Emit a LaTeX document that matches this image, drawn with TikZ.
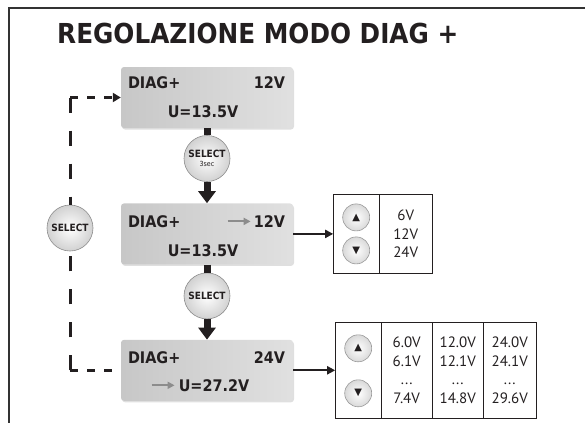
\documentclass[tikz,border=0pt]{standalone}
\usepackage{fontspec}
\setmainfont{DejaVu Sans}[FakeStretch=0.9]
\newfontfamily\thinfont{PT Sans}
\newfontfamily\symfont{DejaVu Sans}
\usetikzlibrary{arrows.meta,positioning,shadows}
\definecolor{inkgray}{HTML}{231F20}
\definecolor{hintgray}{HTML}{8C8C8C}

\begin{document}
\begin{tikzpicture}[x=1pt,y=-1pt,
node distance=7pt and 40pt,
lcd/.style={rounded corners=3pt,minimum width=172pt,minimum height=61pt,
left color=black!22,right color=black!12,
drop shadow={shadow xshift=1pt,shadow yshift=-1.5pt,opacity=0.25}},
txt/.style={font=\bfseries\fontsize{16}{18}\selectfont,text=inkgray,inner sep=0pt},
sel/.style={circle,draw=black!45,line width=0.6pt,inner color=white,outer color=black!18,
minimum size=46pt,inner sep=0pt,align=center,
font=\bfseries\fontsize{10}{10}\selectfont,text=inkgray},
key/.style={circle,draw=black!40,line width=0.6pt,inner color=white,outer color=black!15,
minimum size=27pt,inner sep=0pt,font=\symfont\fontsize{10}{10}\selectfont,text=inkgray},
cell/.style={draw=inkgray,line width=1.4pt,outer sep=0pt,inner sep=0pt,
minimum height=79pt,align=center,font=\thinfont\fontsize{15}{18.5}\selectfont,text=inkgray},
stem/.style={draw=inkgray,line width=7pt},
flow/.style={draw=inkgray,line width=7pt,-{Triangle[length=12pt,width=17pt]}},
feed/.style={draw=inkgray,line width=2.2pt,-{Triangle[length=8pt,width=8pt]}},
hint/.style={draw=hintgray,line width=2pt,-{Triangle[length=7pt,width=7pt]}},
backh/.style={draw=inkgray,line width=3pt,dash pattern=on 8pt off 9pt},
backv/.style={draw=inkgray,line width=3pt,dash pattern=on 15pt off 18pt},
frame/.style={draw=black!80,line width=2pt}
]
\useasboundingbox (0,0) rectangle (585,423);
\draw[frame] (585,8) -- (9,8) -- (9,423);
\node[anchor=west,font=\bfseries\fontsize{27.5}{30}\selectfont,text=inkgray,inner sep=0pt] (title) at (57,33) {REGOLAZIONE MODO DIAG +};

\node[lcd] (v1) at (207,97.5) {};
\node[lcd,below=75pt of v1] (v2) {};
\node[lcd,below=75pt of v2] (v3) {};

\node[txt,anchor=west] (v1a) at ([xshift=7pt,yshift=14.5pt]v1.west) {DIAG+};
\node[txt,anchor=east] (v1b) at ([xshift=-8pt,yshift=14.5pt]v1.east) {12V};
\node[txt] (v1c) at ([xshift=-4pt,yshift=-14.5pt]v1.center) {U=13.5V};
\node[txt,anchor=west] (v2a) at ([xshift=7pt,yshift=12.5pt]v2.west) {DIAG+};
\node[txt,anchor=east] (v2b) at ([xshift=-8pt,yshift=12.5pt]v2.east) {12V};
\node[txt] (v2c) at ([xshift=-4pt,yshift=-16.5pt]v2.center) {U=13.5V};
\node[txt,anchor=west] (v3a) at ([xshift=7pt,yshift=13pt]v3.west) {DIAG+};
\node[txt,anchor=east] (v3b) at ([xshift=-8pt,yshift=13pt]v3.east) {24V};
\node[txt] (v3c) at ([xshift=7pt,yshift=-15pt]v3.center) {U=27.2V};
\draw[hint] ([xshift=-26pt]v2b.west) -- ([xshift=-3pt]v2b.west);
\draw[hint] ([xshift=-27pt]v3c.west) -- ([xshift=-4pt]v3c.west);

\node[sel,below=7pt of v1] (s1) {SELECT\\[-1pt]{\mdseries\fontsize{7}{7}\selectfont 3sec}};
\node[sel,below=8pt of v2] (s2) {SELECT};
\node[sel] (s0) at (70,228) {SELECT};

\draw[stem] (v1) -- (s1);
\draw[flow] (s1) -- (v2);
\draw[stem] (v2) -- (s2);
\draw[flow] (s2) -- (v3);

\node[cell,minimum width=46pt,right=40pt of v2] (k1) {};
\node[cell,minimum width=53pt,right=0pt of k1] (k1v) {6V\\12V\\24V};
\node[key] (k1u) at ([yshift=16.5pt]k1.center) {▲};
\node[key] (k1d) at ([yshift=-16.5pt]k1.center) {▼};

\node[cell,minimum width=46pt,minimum height=96pt,right=42pt of v3] (k2) {};
\node[cell,minimum width=51pt,minimum height=96pt,right=0pt of k2] (k2a) {6.0V\\6.1V\\...\\7.4V};
\node[cell,minimum width=51pt,minimum height=96pt,right=0pt of k2a] (k2b) {12.0V\\12.1V\\...\\14.8V};
\node[cell,minimum width=53pt,minimum height=96pt,right=0pt of k2b] (k2c) {24.0V\\24.1V\\...\\29.6V};
\node[key] (k2u) at ([yshift=22pt]k2.center) {▲};
\node[key] (k2d) at ([yshift=-23pt]k2.center) {▼};

\draw[feed] (v2) -- (k1);
\draw[feed] (v3) -- (k2);

\coordinate (c3) at (s0 |- v3.west);
\coordinate (c1) at (s0 |- v1.west);
\draw[backh] (c3) -- (v3.west);
\draw[backv] (c3) -- (s0);
\draw[backv] (c1) -- (s0);
\draw[backh,-{Triangle[length=8pt,width=9pt]}] (c1) -- (v1.west);
\end{tikzpicture}
\end{document}
